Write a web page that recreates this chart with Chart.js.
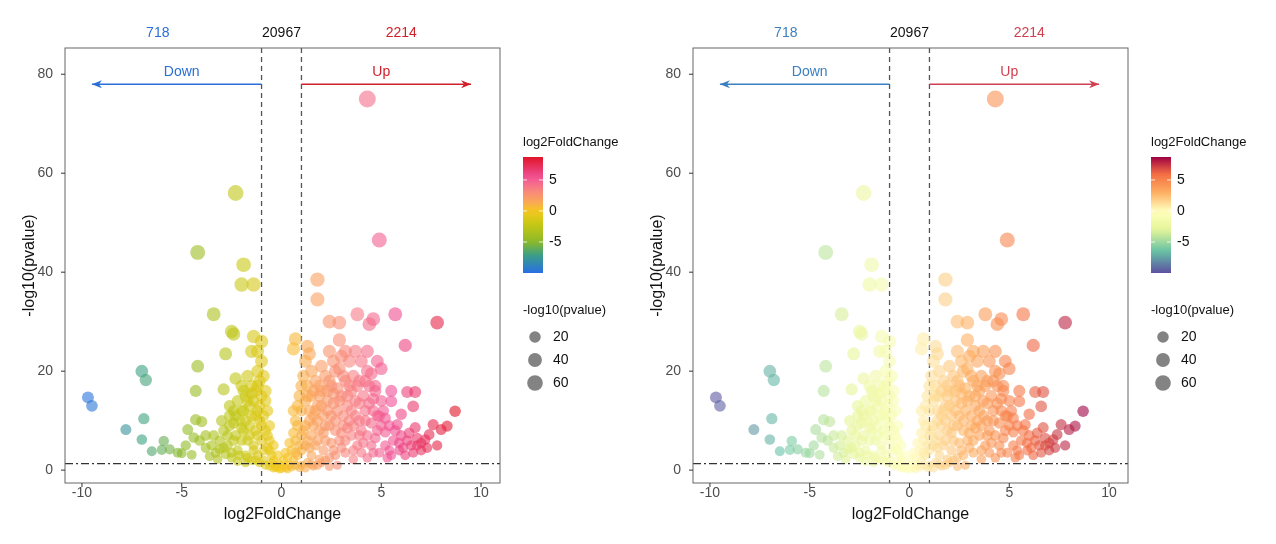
<!DOCTYPE html>
<html>
<head>
<meta charset="utf-8">
<script src="https://cdn.jsdelivr.net/npm/chart.js@4"></script>
<style>
  body { margin: 0; background: #fff; }
  .wrap { position: absolute; top: 0; height: 544px; }
</style>
</head>
<body>
<div class="wrap" style="left:0;width:640px"><canvas id="left"></canvas></div>
<div class="wrap" style="left:640px;width:636px"><canvas id="right"></canvas></div>
<script>
// counts shown above the plots
const countLabels = ["718", "20967", "2214"];
const countX = [-6.2, 0, 6];

// [log2FoldChange, -log10(pvalue)]
const genePoints = [
  [4.3,75],[-2.3,56],[4.9,46.5],[-4.2,44],[-1.9,41.5],[-2,37.5],[-1.4,37.5],[1.8,38.5],[1.8,34.5],
  [-3.4,31.5],[3.8,31.5],[4.6,30.5],[5.7,31.5],[4.4,29.5],[7.8,29.8],[2.4,30],[2.9,29.8],
  [-2.5,28],[-2.4,27.5],[-1.4,27],[-1,26],[0.7,26.5],[0.6,24.5],[1.3,25],[2.9,26.3],[6.2,25.2],
  [-1.5,24],[-2.8,23.5],[1.4,23.5],[2.4,24],[3.2,24],[4.3,24],[4.8,22],[-4.2,21],[-7,20],
  [-6.8,18.2],[-2.3,18.5],[-9.7,14.7],[-9.5,13],[-4.3,16],[-2.9,16.3],[-6.9,10.4],[-7.8,8.2],
  [-7,6.2],[-6.5,3.8],[-5.9,5.9],[-5.6,4.2],[-6,4.1],[-4.7,8.2],[-4.3,10.2],[-4,9.8],[-4.1,6],
  [-4.4,6.6],[-5,3.4],[-4.5,3.1],[8.7,11.9],[8.3,8.9],[8,8.2],[7.6,9.2],[7.4,7.2],[7.8,5],
  [6.3,15.8],[6.7,15.8],[6.6,12.9],[5.5,13.9],[5.5,16],[6,11.3],[5.8,9.2],[6.7,8.6],[6.3,6],
  [6.5,5],[7,5.5],[5.2,7.7],[4.9,10.9],[4.6,14.4],[4.5,19.5],[4.7,17],[5,20.5],
  [-1.2,20],[-1.1,18],[-1.3,16],[-1.0,15],[-1.4,14],[-1.2,12],[-1.1,10],[-1.5,11],[-1.6,13],
  [-1.8,15],[-2.0,17],[-1.7,19],[-2.2,14],[-2.4,12],[-2.1,10],[-1.9,8],[-1.3,8],[-1.0,6],
  [-1.4,5],[-1.7,6],[-2.3,7],[-2.6,9],[-2.9,8],[-3.1,6],[-2.7,5],[-2.2,4],[-1.8,3],[-1.2,3],
  [-0.9,4],[-0.8,8],[-0.7,12],[-0.6,6],[-0.5,3],[-0.9,2],[-1.5,2],[-2.5,2.5],[-3.3,3.5],
  [-3.6,2.8],[-3.8,4.5],[-3.0,10],[-2.6,13],[-0.8,16],[-1.0,22],[-1.2,24],[-0.9,11],[-1.6,9],
  [-2.0,6],[-2.8,3.2],[-3.2,2.2],[-0.6,9],[-0.7,4.5],[-1.1,1.5],[-0.4,2],[-0.3,1],[-0.6,0.8],
  [-1.8,1.5],[-2.2,1.8],[-1.5,17],[-1.9,12],[-2.4,9.5],[-3.5,5],[-3.8,7],[-4.8,5],[-5.2,3.5],
  [0,0.3],[0.2,0.5],[-0.2,0.6],[0.4,1],[-0.4,0.4],[0.6,2],[0.5,4],[0.7,6],[0.8,9],[0.6,12],
  [0.9,15],[0.3,2.5],[-0.1,1.2],[0.1,2],[0.8,3],[1.0,1],[1.3,1.5],[1.6,0.8],[2.0,1.5],[2.4,0.7],
  [2.8,1],[1.1,19],[1.3,17],[1.2,14],[1.0,12],[1.4,10],[1.1,8],[1.3,6],[1.0,4],[1.5,3],[1.7,5],
  [1.9,8],[1.6,11],[1.8,13],[2.0,16],[1.7,18],[2.2,19],[2.5,17],[2.3,14],[2.1,11],[2.4,9],
  [2.2,6],[2.6,4],[2.9,6],[3.1,9],[2.8,12],[3.0,15],[2.7,20],[3.2,18],[3.4,22],[3.6,19],
  [3.5,16],[3.3,13],[3.7,11],[3.5,7],[3.8,5],[3.2,3.5],[4.0,8],[4.2,12],[4.1,15],[3.9,18],
  [4.3,20],[4.4,17],[4.0,22],[3.7,24],[3.0,23],[2.6,22],[2.9,20.5],[2.0,21],[1.5,20],[1.2,22],
  [4.6,12],[4.8,8],[4.5,5],[4.9,3.5],[5.2,5],[5.4,9],[5.1,12],[5.6,6],[5.9,4],[6.0,7],[6.2,3],
  [5.5,3],[4.3,2.5],[3.6,2.2],[2.4,2.5],[1.9,2.2],[4.7,16],[5.0,14],[4.2,10],[3.4,10],[2.7,8],
  [2.0,13],[1.5,15],[2.6,15.5],[3.9,13.5],[4.5,9.5],[6.8,5],[7.2,6.2],[6.6,3.5],[7.0,4],[5.3,2.5],
  [-1.1,13],[-1.3,11],[-1.0,9],[-1.2,7],[-1.4,4],[-1.6,7],[-1.8,10],[-2.0,12],[-1.5,15.5],
  [-1.2,17],[-0.8,14],[-0.9,19],[-0.7,7],[-0.6,4],[-0.5,1.5],[-0.8,1],[-1.3,2],[-1.7,2.5],
  [-2.1,3],[-2.5,3.5],[-2.4,6],[-2.7,7],[-2.0,8.5],[-2.3,11],[-1.7,14],[-1.9,16],[-2.6,11],
  [-2.9,4.5],[-3.4,7],[-3.1,4.2],[-0.3,0.5],[-0.1,0.2],[0.1,0.8],[0.3,0.2],[0.5,0.6],[0.7,1],
  [0.9,0.5],[1.2,0.4],[1.5,1.2],[1.8,1],[2.2,2],[0.6,7.5],[0.7,10],[0.8,13],[0.9,5],[0.7,3.5],
  [1.0,17],[1.0,7],[1.2,9],[1.2,5],[1.4,4.5],[1.4,12],[1.3,15],[1.5,7],[1.6,9],[1.7,12],[1.6,16],
  [1.8,6],[1.8,10],[1.9,15],[1.9,17],[2.1,4],[2.1,7.5],[2.2,9],[2.3,12],[2.3,16],[2.4,18],
  [2.5,5.5],[2.5,11],[2.6,13.5],[2.7,3],[2.7,10],[2.8,16.5],[2.9,14],[3.0,4.5],[3.0,7.5],
  [3.1,11],[3.1,19],[3.2,6],[3.3,8.5],[3.3,15],[3.4,17],[3.5,12],[3.6,4],[3.6,9],[3.7,14],
  [3.8,17],[3.9,7],[3.9,10],[4.0,3.5],[4.1,5.5],[4.2,18],[4.3,7],[4.4,13.5],[4.6,3.5],[4.7,6.5],
  [4.8,11],[5.0,9],[5.2,10.5],[5.4,4],[5.7,8],[5.9,5.5],[6.1,4.5],[6.4,7.5],[6.8,6.5],[7.3,4.5],
  [-0.2,3],[0.2,3.5],[-0.4,5],[0.4,5.5]
];

const sizeLegend = [20, 40, 60];
const colorTicks = [5, 0, -5];
const fcMin = -10, fcMax = 8.7;

// colour stops: [log2FC, r, g, b]
const palLeft = [[-10,40,110,230],[-7,60,160,130],[-5,140,185,40],[-2,200,200,20],[0,245,200,30],
  [1.5,250,165,90],[3.5,248,130,130],[5.5,240,80,150],[8.7,225,20,40]];
const palRight = [[-10,94,79,162],[-6.5,102,194,165],[-3,230,245,152],[0,255,255,191],
  [3,253,174,97],[6,244,109,67],[8.7,158,1,66]];

function colorAt(pal, v, a) {
  if (v <= pal[0][0]) { const p = pal[0]; return `rgba(${p[1]},${p[2]},${p[3]},${a})`; }
  for (let i = 1; i < pal.length; i++) {
    if (v <= pal[i][0]) {
      const p0 = pal[i - 1], p1 = pal[i], t = (v - p0[0]) / (p1[0] - p0[0]);
      const c = [1, 2, 3].map(k => Math.round(p0[k] + (p1[k] - p0[k]) * t));
      return `rgba(${c[0]},${c[1]},${c[2]},${a})`;
    }
  }
  const p = pal[pal.length - 1];
  return `rgba(${p[1]},${p[2]},${p[3]},${a})`;
}
const radiusFor = y => 4 + Math.sqrt(y) * 0.52;
const FONT = "Arial, 'Liberation Sans'";

const decorPlugin = {
  id: "decor",
  beforeDatasetsDraw(chart) {
    const { ctx, chartArea: a, scales: { x } } = chart;
    ctx.save();
    ctx.strokeStyle = "#555";
    ctx.lineWidth = 1.3;
    ctx.setLineDash([5, 4]);
    [-1, 1].forEach(v => {
      ctx.beginPath(); ctx.moveTo(x.getPixelForValue(v), a.top); ctx.lineTo(x.getPixelForValue(v), a.bottom); ctx.stroke();
    });
    ctx.restore();
  },
  afterDatasetsDraw(chart) {
    const { ctx, chartArea: a, scales: { x, y } } = chart;
    const { pal, down, up } = chart.options.plugins.decor;
    ctx.save();
    // p threshold
    ctx.strokeStyle = "#333"; ctx.lineWidth = 1.3; ctx.setLineDash([8, 3, 2, 3]);
    const yt = y.getPixelForValue(1.3);
    ctx.beginPath(); ctx.moveTo(a.left, yt); ctx.lineTo(a.right, yt); ctx.stroke();
    ctx.setLineDash([]);
    // arrows
    const ya = y.getPixelForValue(78);
    [[-1, -9.5, down], [1, 9.5, up]].forEach(([s, e, col]) => {
      const xs = x.getPixelForValue(s), xe = x.getPixelForValue(e), d = Math.sign(xe - xs);
      ctx.strokeStyle = col; ctx.fillStyle = col; ctx.lineWidth = 1.5;
      ctx.beginPath(); ctx.moveTo(xs, ya); ctx.lineTo(xe, ya); ctx.stroke();
      ctx.beginPath(); ctx.moveTo(xe, ya); ctx.lineTo(xe - d * 10, ya - 4); ctx.lineTo(xe - d * 7, ya); ctx.lineTo(xe - d * 10, ya + 4); ctx.closePath(); ctx.fill();
    });
    ctx.font = "14px " + FONT;
    ctx.textAlign = "center"; ctx.textBaseline = "middle";
    ctx.fillStyle = down; ctx.fillText("Down", x.getPixelForValue(-5), y.getPixelForValue(80.5));
    ctx.fillStyle = up; ctx.fillText("Up", x.getPixelForValue(5), y.getPixelForValue(80.5));
    // frame and ticks
    ctx.strokeStyle = "#666"; ctx.lineWidth = 1;
    ctx.strokeRect(a.left, a.top, a.right - a.left, a.bottom - a.top);
    ctx.strokeStyle = "#333";
    [-10, -5, 0, 5, 10].forEach(v => { const px = x.getPixelForValue(v); ctx.beginPath(); ctx.moveTo(px, a.bottom); ctx.lineTo(px, a.bottom + 4); ctx.stroke(); });
    [0, 20, 40, 60, 80].forEach(v => { const py = y.getPixelForValue(v); ctx.beginPath(); ctx.moveTo(a.left - 4, py); ctx.lineTo(a.left, py); ctx.stroke(); });
    // counts
    const cc = [down, "#111", up];
    countLabels.forEach((t, i) => { ctx.fillStyle = cc[i]; ctx.fillText(t, x.getPixelForValue(countX[i]), 33); });
    // colour bar legend
    const lx = a.right + 23, top = 157, bot = 273, w = 20;
    ctx.textAlign = "left"; ctx.fillStyle = "#111"; ctx.font = "13px " + FONT;
    ctx.fillText("log2FoldChange", a.right + 23, 142);
    const g = ctx.createLinearGradient(0, bot, 0, top);
    for (let i = 0; i <= 20; i++) { const v = fcMin + (fcMax - fcMin) * i / 20; g.addColorStop(i / 20, colorAt(pal, v, 1)); }
    ctx.fillStyle = g; ctx.fillRect(lx, top, w, bot - top);
    ctx.font = "14px " + FONT;
    colorTicks.forEach(v => {
      const py = bot - (v - fcMin) / (fcMax - fcMin) * (bot - top);
      ctx.strokeStyle = "rgba(255,255,255,0.8)";
      ctx.beginPath(); ctx.moveTo(lx, py); ctx.lineTo(lx + 4, py); ctx.moveTo(lx + w - 4, py); ctx.lineTo(lx + w, py); ctx.stroke();
      ctx.fillStyle = "#111"; ctx.fillText(String(v), lx + w + 6, py);
    });
    ctx.font = "13px " + FONT;
    ctx.fillText("-log10(pvalue)", a.right + 23, 310);
    sizeLegend.forEach((v, i) => {
      const py = 337 + i * 23;
      ctx.fillStyle = "rgba(90,90,90,0.75)";
      ctx.beginPath(); ctx.arc(lx + 12, py, 3 + Math.sqrt(v) * 0.62, 0, Math.PI * 2); ctx.fill();
      ctx.fillStyle = "#111"; ctx.font = "14px " + FONT;
      ctx.fillText(String(v), lx + 30, py);
    });
    ctx.restore();
  }
};

function makeChart(id, pal, leftPad, rightPad, down, up) {
  const pts = genePoints.map(p => ({ x: p[0], y: p[1] }));
  return new Chart(document.getElementById(id), {
    type: "scatter",
    data: {
      datasets: [{
        data: pts,
        pointRadius: pts.map(p => radiusFor(p.y)),
        pointBackgroundColor: pts.map(p => colorAt(pal, p.x, 0.6)),
        pointBorderWidth: 0,
        clip: 0
      }]
    },
    options: {
      responsive: true,
      maintainAspectRatio: false,
      animation: false,
      layout: { padding: { top: 48, right: rightPad, left: leftPad, bottom: 20 } },
      scales: {
        x: {
          min: -10.85, max: 10.95,
          grid: { display: false }, border: { display: false },
          afterFit: s => { s.height = 41; },
          afterBuildTicks: s => { s.ticks = [-10, -5, 0, 5, 10].map(v => ({ value: v })); },
          ticks: { color: "#4d4d4d", padding: -6, font: { size: 14, family: FONT } },
          title: { display: true, text: "log2FoldChange", color: "#111", font: { size: 16, family: FONT }, padding: 0 }
        },
        y: {
          min: -2.6, max: 85.3,
          grid: { display: false }, border: { display: false },
          afterFit: s => { s.width = 45; },
          afterBuildTicks: s => { s.ticks = [0, 20, 40, 60, 80].map(v => ({ value: v })); },
          ticks: { color: "#4d4d4d", padding: 4, font: { size: 14, family: FONT } },
          title: { display: true, text: "-log10(pvalue)", color: "#111", font: { size: 16, family: FONT }, padding: 0 }
        }
      },
      plugins: { legend: { display: false }, tooltip: { enabled: false }, decor: { pal, down, up } }
    },
    plugins: [decorPlugin]
  });
}

makeChart("left", palLeft, 20, 140, "#2a6fd6", "#d0202a");
makeChart("right", palRight, 8, 148, "#3a7fc0", "#d04050");
</script>
</body>
</html>
